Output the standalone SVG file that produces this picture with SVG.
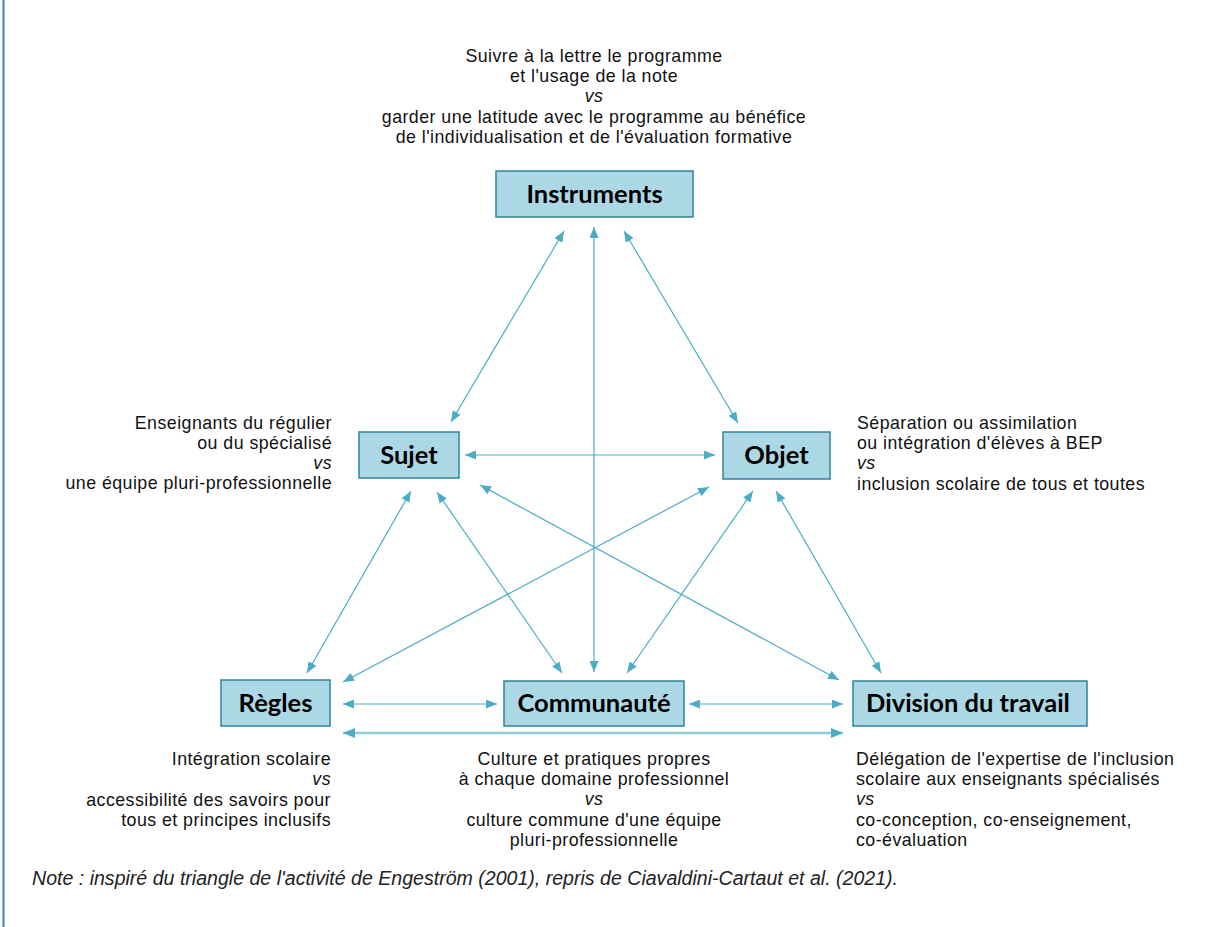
<svg xmlns="http://www.w3.org/2000/svg" width="1210" height="927" viewBox="0 0 1210 927">
<style>
.box{fill:#acd8e5;stroke:#31849b;stroke-width:1.5}
.lbl{font-family:Lato,"Liberation Sans",sans-serif;font-weight:bold;font-size:25.5px;text-anchor:middle;fill:#000}
.t{font-family:"Liberation Sans",Arial,sans-serif;font-size:17.8px;letter-spacing:0.45px;fill:#111}
.m{text-anchor:middle}
.r{text-anchor:end}
.i{font-style:italic}
.c{stroke:#4bacc6;stroke-width:1.2;fill:none;marker-start:url(#ah);marker-end:url(#ah)}
.cw{stroke:#8ecbdc;stroke-width:2.5;fill:none;marker-start:url(#ah2);marker-end:url(#ah2)}
</style>
<defs>
<marker id="ah" markerUnits="userSpaceOnUse" markerWidth="11" markerHeight="9" refX="11" refY="4.5" orient="auto-start-reverse" viewBox="0 0 11 9"><path d="M0,0 L11,4.5 L0,9 z" fill="#4bacc6"/></marker>
<marker id="ah2" markerUnits="userSpaceOnUse" markerWidth="12" markerHeight="10" refX="12" refY="5" orient="auto-start-reverse" viewBox="0 0 12 10"><path d="M0,0 L12,5 L0,10 z" fill="#4bacc6"/></marker>
</defs>
<rect width="1210" height="927" fill="#fff"/>
<line x1="3.5" y1="0" x2="3.5" y2="927" stroke="#2f8bab" stroke-width="2"/>

<g id="connectors">
<line class="c" x1="564" y1="231" x2="451" y2="422"/>
<line class="c" x1="594" y1="227" x2="594" y2="672"/>
<line class="c" x1="624" y1="231" x2="738" y2="423"/>
<line class="c" x1="465" y1="455" x2="715" y2="455"/>
<line class="c" x1="411" y1="491" x2="307" y2="673"/>
<line class="c" x1="437" y1="492" x2="562" y2="673"/>
<line class="c" x1="480" y1="485" x2="839" y2="680"/>
<line class="c" x1="709" y1="487" x2="343" y2="682"/>
<line class="c" x1="753" y1="491" x2="627" y2="673"/>
<line class="c" x1="776" y1="491" x2="881" y2="673"/>
<line class="c" x1="343" y1="704" x2="497" y2="704"/>
<line class="c" x1="689" y1="704" x2="843" y2="704"/>
<line class="cw" x1="343" y1="733" x2="843" y2="733"/>
</g>

<g id="instruments">
<rect class="box" x="496" y="171" width="197" height="46"/>
<text class="lbl" x="594.5" y="203">Instruments</text>
<text class="t m" x="594" y="62">Suivre à la lettre le programme</text>
<text class="t m" x="594" y="82">et l'usage de la note</text>
<text class="t m i" x="594" y="102">vs</text>
<text class="t m" x="594" y="123">garder une latitude avec le programme au bénéfice</text>
<text class="t m" x="594" y="143">de l'individualisation et de l'évaluation formative</text>
</g>

<g id="sujet">
<rect class="box" x="359" y="432" width="100" height="46"/>
<text class="lbl" x="409" y="464">Sujet</text>
<text class="t r" x="332" y="429">Enseignants du régulier</text>
<text class="t r" x="332" y="449">ou du spécialisé</text>
<text class="t r i" x="332" y="469">vs</text>
<text class="t r" x="332" y="489">une équipe pluri-professionnelle</text>
</g>

<g id="objet">
<rect class="box" x="723" y="432" width="107" height="47"/>
<text class="lbl" x="776.5" y="464">Objet</text>
<text class="t" x="857" y="429">Séparation ou assimilation</text>
<text class="t" x="857" y="449">ou intégration d'élèves à BEP</text>
<text class="t i" x="857" y="469">vs</text>
<text class="t" x="857" y="490">inclusion scolaire de tous et toutes</text>
</g>

<g id="regles">
<rect class="box" x="221" y="680" width="109" height="46"/>
<text class="lbl" x="275.5" y="712">Règles</text>
<text class="t r" x="331" y="765">Intégration scolaire</text>
<text class="t r i" x="331" y="785">vs</text>
<text class="t r" x="331" y="806">accessibilité des savoirs pour</text>
<text class="t r" x="331" y="826">tous et principes inclusifs</text>
</g>

<g id="communaute">
<rect class="box" x="504" y="681" width="180" height="45"/>
<text class="lbl" x="594" y="712">Communauté</text>
<text class="t m" x="594" y="765">Culture et pratiques propres</text>
<text class="t m" x="594" y="785">à chaque domaine professionnel</text>
<text class="t m i" x="594" y="805">vs</text>
<text class="t m" x="594" y="826">culture commune d'une équipe</text>
<text class="t m" x="594" y="846">pluri-professionnelle</text>
</g>

<g id="division">
<rect class="box" x="853" y="681" width="234" height="45"/>
<text class="lbl" x="968" y="712">Division du travail</text>
<text class="t" x="856" y="765">Délégation de l'expertise de l'inclusion</text>
<text class="t" x="856" y="785">scolaire aux enseignants spécialisés</text>
<text class="t i" x="856" y="805">vs</text>
<text class="t" x="856" y="826">co-conception, co-enseignement,</text>
<text class="t" x="856" y="846">co-évaluation</text>
</g>

<text x="32" y="885" font-family="'Liberation Sans',Arial,sans-serif" font-style="italic" font-size="19.5" fill="#222" textLength="866" lengthAdjust="spacingAndGlyphs">Note : inspiré du triangle de l'activité de Engeström (2001), repris de Ciavaldini-Cartaut et al. (2021).</text>
</svg>
